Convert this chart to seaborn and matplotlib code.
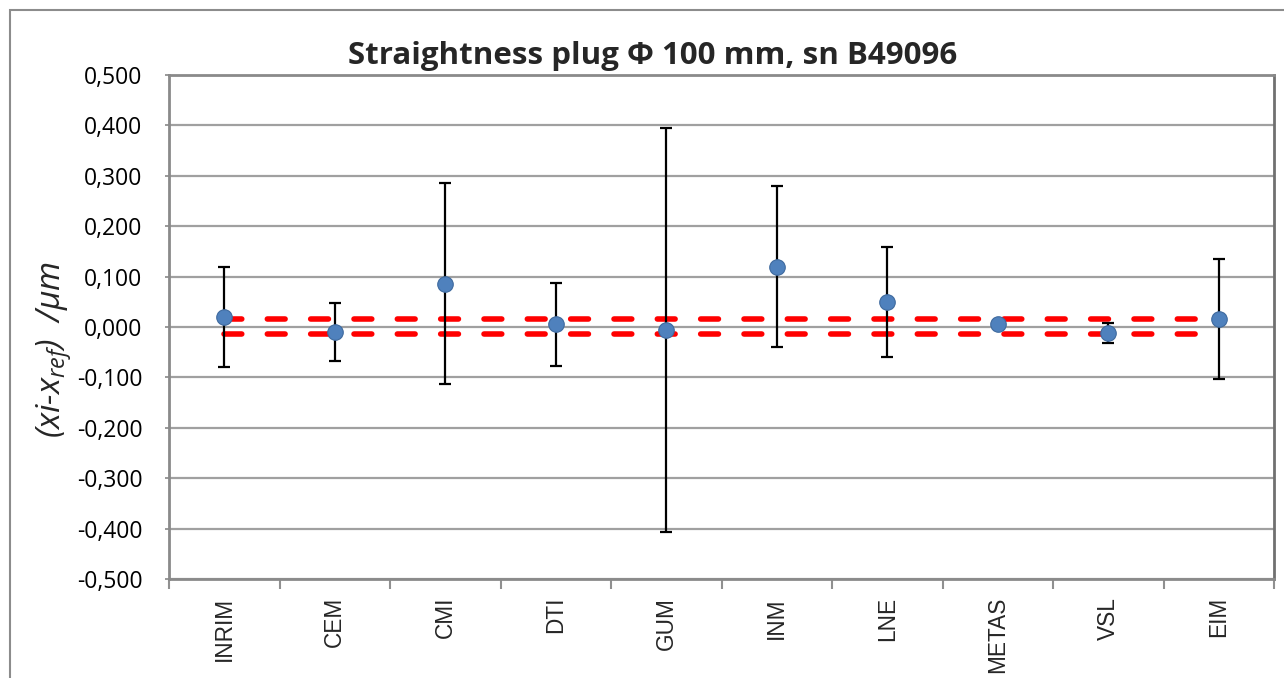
import numpy as np
import pandas as pd
import matplotlib
matplotlib.use("Agg")
import matplotlib.pyplot as plt
from matplotlib.ticker import FixedLocator, FuncFormatter
from matplotlib.patches import Rectangle
import seaborn as sns

labs = ["INRIM", "CEM", "CMI", "DTI", "GUM", "INM", "LNE", "METAS", "VSL", "EIM"]
diffs = [0.020, -0.010, 0.086, 0.005, -0.006, 0.120, 0.050, 0.005, -0.012, 0.016]
uncs = [0.099, 0.058, 0.200, 0.082, 0.400, 0.160, 0.109, 0.0, 0.020, 0.119]
band_hi = 0.015
band_lo = -0.013
yticks = [-0.5, -0.4, -0.3, -0.2, -0.1, 0.0, 0.1, 0.2, 0.3, 0.4, 0.5]
title = "Straightness plug \u03a6 100 mm, sn B49096"

sns.set_theme(style="white")
plt.rcParams["font.family"] = ["Open Sans", "DejaVu Sans"]
plt.rcParams["mathtext.fontset"] = "custom"
plt.rcParams["mathtext.it"] = "Open Sans:italic"
plt.rcParams["mathtext.rm"] = "Open Sans:italic"

df = pd.DataFrame({"lab": labs, "d": diffs, "u": uncs})
df["x"] = np.arange(len(df))

fig = plt.figure(figsize=(12.84, 6.78), dpi=100)
ax = fig.add_axes([169 / 1284, 1 - 579 / 678, (1274 - 169) / 1284, (579 - 75) / 678])

# outer chart border
fig.patches.append(Rectangle((10 / 1284, -0.1), 1.2, 1 - 10 / 678 + 0.1, transform=fig.transFigure,
                             fill=False, edgecolor="#8c8c8c", linewidth=1.5, zorder=0))

# grid
for t in yticks:
    ax.axhline(t, color="#a0a0a0", lw=1.6, zorder=0)

# reference band lines
for yv in (band_hi, band_lo):
    ax.plot([df["x"].iloc[0], df["x"].iloc[-1]], [yv, yv], color="#ff0000", lw=4.0,
            dashes=(3.2, 4.6), dash_capstyle="round", zorder=2)

ax.errorbar(df["x"], df["d"], yerr=df["u"], fmt="none", ecolor="black", elinewidth=1.6,
            capsize=4.5, capthick=1.6, zorder=3)
sns.scatterplot(data=df, x="x", y="d", ax=ax, s=125, color="#4F81BD", edgecolor="#3f6a9e",
                linewidth=0.8, zorder=4, legend=False)

ax.set_xlim(-0.5, len(labs) - 0.5)
ax.set_ylim(-0.5, 0.5)
ax.set_yticks(yticks)
ax.yaxis.set_major_formatter(FuncFormatter(lambda v, p: f"{v:.3f}".replace(".", ",").replace("-0,000", "0,000")))
ax.tick_params(axis="y", labelsize=16.5, length=3, width=1.2, color="#888888", direction="out",
               left=True, pad=16, labelcolor="black")

ax.set_xticks(df["x"])
ax.set_xticklabels(labs, rotation=90, fontsize=16.3, family=["Liberation Sans", "DejaVu Sans"])
ax.xaxis.set_minor_locator(FixedLocator(np.arange(-0.5, len(labs), 1.0)))
ax.tick_params(axis="x", which="major", length=0, pad=13)
ax.tick_params(axis="x", which="minor", length=7, width=1.5, color="#909090", direction="out", bottom=True)

for side, sp in ax.spines.items():
    sp.set_visible(True)
    sp.set_color("#8a8a8a")
    sp.set_linewidth(2.0)
ax.spines["right"].set_color("#707070")

ax.set_xlabel("")
ax.set_ylabel(r"(xi-x$_{ref}$)  /µm", fontsize=24, fontstyle="italic")
ax.yaxis.set_label_coords(-0.086, 0.455)

fig.text((345 + 960) / 2 / 1284, 1 - 56 / 678, title, ha="center", va="center",
         fontsize=22.5, fontweight="bold")

fig.savefig("out.png", dpi=100)
